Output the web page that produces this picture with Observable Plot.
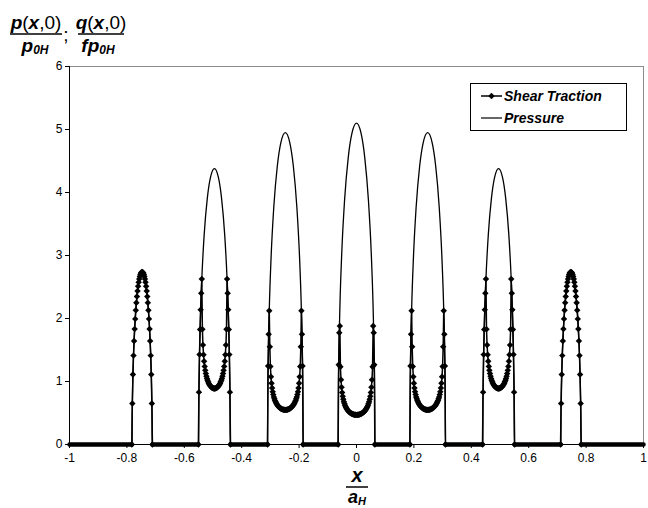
<!DOCTYPE html>
<html>
<head>
<meta charset="utf-8">
<script src="https://cdn.jsdelivr.net/npm/d3@7"></script>
<script src="https://cdn.jsdelivr.net/npm/@observablehq/plot@0.6"></script>
<style>
  html, body { margin: 0; padding: 0; background: #fff; }
  #chart { width: 648px; height: 508px; }
</style>
</head>
<body>
<div id="chart"></div>
<script>
// Axis ticks
const xTicks = [-1, -0.8, -0.6, -0.4, -0.2, 0, 0.2, 0.4, 0.6, 0.8, 1];
const xTickLabels = ["-1", "-0.8", "-0.6", "-0.4", "-0.2", "0", "0.2", "0.4", "0.6", "0.8", "1"];
const yTicks = [0, 1, 2, 3, 4, 5, 6];

// Pressure p(x,0)/p0H along the contact, seven Hertz-like patches
const pressureX = [
  -1,
  -0.782, -0.7817, -0.7806, -0.7785, -0.775, -0.7698, -0.7628, -0.7558, -0.747, -0.7382, -0.7312, -0.7242, -0.719, -0.7155, -0.7134, -0.7123, -0.712,
  -0.55, -0.5495, -0.5478, -0.5445, -0.539, -0.5308, -0.5198, -0.5088, -0.495, -0.4812, -0.4702, -0.4592, -0.451, -0.4455, -0.4422, -0.4405, -0.44,
  -0.31, -0.3094, -0.3075, -0.3038, -0.2976, -0.2883, -0.2759, -0.2635, -0.248, -0.2325, -0.2201, -0.2077, -0.1984, -0.1922, -0.1885, -0.1866, -0.186,
  -0.064, -0.0634, -0.0614, -0.0576, -0.0512, -0.0416, -0.0288, -0.016, 0, 0.016, 0.0288, 0.0416, 0.0512, 0.0576, 0.0614, 0.0634, 0.064,
  0.186, 0.1866, 0.1885, 0.1922, 0.1984, 0.2077, 0.2201, 0.2325, 0.248, 0.2635, 0.2759, 0.2883, 0.2976, 0.3038, 0.3075, 0.3094, 0.31,
  0.44, 0.4405, 0.4422, 0.4455, 0.451, 0.4592, 0.4702, 0.4812, 0.495, 0.5088, 0.5198, 0.5308, 0.539, 0.5445, 0.5478, 0.5495, 0.55,
  0.712, 0.7123, 0.7134, 0.7155, 0.719, 0.7242, 0.7312, 0.7382, 0.747, 0.7558, 0.7628, 0.7698, 0.775, 0.7785, 0.7806, 0.7817, 0.782,
  1
];
const pressureP = [
  0,
  0, 0.387, 0.767, 1.194, 1.644, 2.082, 2.447, 2.653, 2.74, 2.653, 2.447, 2.082, 1.644, 1.194, 0.767, 0.387, 0,
  0, 0.618, 1.226, 1.909, 2.628, 3.328, 3.911, 4.241, 4.38, 4.241, 3.911, 3.328, 2.628, 1.909, 1.226, 0.618, 0,
  0, 0.698, 1.386, 2.158, 2.970, 3.762, 4.420, 4.793, 4.95, 4.793, 4.420, 3.762, 2.970, 2.158, 1.386, 0.698, 0,
  0, 0.720, 1.428, 2.223, 3.060, 3.875, 4.554, 4.938, 5.10, 4.938, 4.554, 3.875, 3.060, 2.223, 1.428, 0.720, 0,
  0, 0.698, 1.386, 2.158, 2.970, 3.762, 4.420, 4.793, 4.95, 4.793, 4.420, 3.762, 2.970, 2.158, 1.386, 0.698, 0,
  0, 0.618, 1.226, 1.909, 2.628, 3.328, 3.911, 4.241, 4.38, 4.241, 3.911, 3.328, 2.628, 1.909, 1.226, 0.618, 0,
  0, 0.387, 0.767, 1.194, 1.644, 2.082, 2.447, 2.653, 2.74, 2.653, 2.447, 2.082, 1.644, 1.194, 0.767, 0.387, 0,
  0
];

// Shear traction q(x,0)/(f p0H): tabulated on a uniform grid inside each patch
const shearStep = 0.002;
const shearStart = [-0.783, -0.551, -0.310, -0.064, 0.186, 0.439, 0.711];
const shear1 = [0, 0.650, 1.110, 1.411, 1.644, 1.834, 1.994, 2.131, 2.249, 2.350, 2.437, 2.511, 2.574, 2.626, 2.667, 2.699, 2.722, 2.736, 2.74, 2.736, 2.722, 2.699, 2.667, 2.626, 2.574, 2.511, 2.437, 2.350, 2.249, 2.131, 1.994, 1.834, 1.644, 1.411, 1.110, 0.650, 0];
const shear2 = [0, 0.831, 1.427, 1.825, 2.138, 2.401, 2.628, 1.828, 1.578, 1.426, 1.320, 1.240, 1.177, 1.126, 1.084, 1.049, 1.020, 0.995, 0.974, 0.956, 0.941, 0.928, 0.917, 0.908, 0.901, 0.896, 0.892, 0.890, 0.889, 0.890, 0.892, 0.896, 0.901, 0.908, 0.917, 0.928, 0.941, 0.956, 0.974, 0.995, 1.020, 1.049, 1.084, 1.126, 1.177, 1.240, 1.320, 1.426, 1.578, 1.828, 2.628, 2.401, 2.138, 1.825, 1.427, 0.831, 0];
const shear3 = [0, 1.247, 1.749, 2.124, 1.553, 1.238, 1.076, 0.971, 0.896, 0.838, 0.792, 0.755, 0.725, 0.699, 0.677, 0.657, 0.641, 0.627, 0.614, 0.603, 0.594, 0.585, 0.578, 0.572, 0.566, 0.562, 0.558, 0.555, 0.553, 0.551, 0.550, 0.550, 0.550, 0.551, 0.553, 0.555, 0.558, 0.562, 0.566, 0.572, 0.578, 0.585, 0.594, 0.603, 0.614, 0.627, 0.641, 0.657, 0.677, 0.699, 0.725, 0.755, 0.792, 0.838, 0.896, 0.971, 1.076, 1.238, 1.553, 2.124, 1.749, 1.247, 0];
const shear4 = [0, 1.265, 1.775, 1.882, 1.235, 1.029, 0.908, 0.825, 0.764, 0.717, 0.680, 0.649, 0.623, 0.601, 0.583, 0.566, 0.552, 0.540, 0.529, 0.520, 0.511, 0.504, 0.498, 0.492, 0.487, 0.483, 0.479, 0.476, 0.474, 0.472, 0.471, 0.470, 0.470, 0.470, 0.471, 0.472, 0.474, 0.476, 0.479, 0.483, 0.487, 0.492, 0.498, 0.504, 0.511, 0.520, 0.529, 0.540, 0.552, 0.566, 0.583, 0.601, 0.623, 0.649, 0.680, 0.717, 0.764, 0.825, 0.908, 1.029, 1.235, 1.882, 1.775, 1.265, 0];
const shear5 = [0, 1.247, 1.749, 2.124, 1.553, 1.238, 1.076, 0.971, 0.896, 0.838, 0.792, 0.755, 0.725, 0.699, 0.677, 0.657, 0.641, 0.627, 0.614, 0.603, 0.594, 0.585, 0.578, 0.572, 0.566, 0.562, 0.558, 0.555, 0.553, 0.551, 0.550, 0.550, 0.550, 0.551, 0.553, 0.555, 0.558, 0.562, 0.566, 0.572, 0.578, 0.585, 0.594, 0.603, 0.614, 0.627, 0.641, 0.657, 0.677, 0.699, 0.725, 0.755, 0.792, 0.838, 0.896, 0.971, 1.076, 1.238, 1.553, 2.124, 1.749, 1.247, 0];
const shear6 = [0, 0.831, 1.427, 1.825, 2.138, 2.401, 2.628, 1.828, 1.578, 1.426, 1.320, 1.240, 1.177, 1.126, 1.084, 1.049, 1.020, 0.995, 0.974, 0.956, 0.941, 0.928, 0.917, 0.908, 0.901, 0.896, 0.892, 0.890, 0.889, 0.890, 0.892, 0.896, 0.901, 0.908, 0.917, 0.928, 0.941, 0.956, 0.974, 0.995, 1.020, 1.049, 1.084, 1.126, 1.177, 1.240, 1.320, 1.426, 1.578, 1.828, 2.628, 2.401, 2.138, 1.825, 1.427, 0.831, 0];
const shear7 = [0, 0.650, 1.110, 1.411, 1.644, 1.834, 1.994, 2.131, 2.249, 2.350, 2.437, 2.511, 2.574, 2.626, 2.667, 2.699, 2.722, 2.736, 2.74, 2.736, 2.722, 2.699, 2.667, 2.626, 2.574, 2.511, 2.437, 2.350, 2.249, 2.131, 1.994, 1.834, 1.644, 1.411, 1.110, 0.650, 0];
// Stretches outside the patches where the shear traction is zero
const zeroRuns = [[-1, -0.783], [-0.711, -0.551], [-0.439, -0.310], [-0.186, -0.064], [0.064, 0.186], [0.310, 0.439], [0.551, 0.711], [0.783, 1]];

// Tidy rows for the marks
const pressureRows = pressureX.map((x, i) => ({x, p: pressureP[i]}));
const shearRows = [shear1, shear2, shear3, shear4, shear5, shear6, shear7]
  .flatMap((vals, h) => vals.map((q, i) => ({x: shearStart[h] + i * shearStep, q, patch: h})));
const zeroRows = zeroRuns.flatMap(([a, b], r) => [{x: a, q: 0, run: r}, {x: b, q: 0, run: r}]);

const FONT = "'Liberation Sans', Arial, sans-serif";
const MARKER_R = 2.9;

const chart = Plot.plot({
  width: 648,
  height: 508,
  marginLeft: 69,
  marginRight: 5,
  marginTop: 66,
  marginBottom: 64,
  style: {fontFamily: FONT, color: "#000", background: "#fff", overflow: "visible"},
  x: {domain: [-1, 1]},
  y: {domain: [0, 6]},
  marks: [
    Plot.frame({stroke: "#8c8c8c", strokeWidth: 1}),
    Plot.line(zeroRows, {x: "x", y: "q", z: "run", stroke: "#000", strokeWidth: 4.5}),
    Plot.line(pressureRows, {x: "x", y: "p", stroke: "#000", strokeWidth: 1.3, curve: "monotone-x"}),
    Plot.line(shearRows, {x: "x", y: "q", z: "patch", stroke: "#000", strokeWidth: 1.5}),
    Plot.dot(shearRows, {x: "x", y: "q", symbol: "diamond2", r: MARKER_R, fill: "#000", stroke: "none"}),
    Plot.ruleY([0], {stroke: "#000", strokeWidth: 1}),
    Plot.ruleX([-1], {stroke: "#000", strokeWidth: 1}),
    Plot.axisX({ticks: xTicks, tickSize: 4, tickPadding: 5, fontSize: 12, label: null,
      tickFormat: d => xTickLabels[xTicks.indexOf(d)]}),
    Plot.axisY({ticks: yTicks, tickSize: 4, tickPadding: 3, fontSize: 12, label: null,
      tickFormat: d => String(d)})
  ]
});

document.getElementById("chart").appendChild(chart);

// Annotations: axis titles and legend
const svg = d3.select(chart);
const g = svg.append("g").attr("font-family", FONT).attr("fill", "#000");

function rich(x, y, parts, anchor = "middle") {
  const t = g.append("text").attr("x", x).attr("y", y).attr("text-anchor", anchor);
  for (const [s, o] of parts) {
    const ts = t.append("tspan").text(s)
      .attr("font-size", o.size)
      .attr("font-weight", o.bold ? "bold" : "normal")
      .attr("font-style", o.italic ? "italic" : "normal");
    if (o.dy) ts.attr("dy", o.dy);
  }
  return t;
}
const B = 19;
const bi = {size: B, bold: true, italic: true};
const rg = {size: B, bold: false};
const sub = {size: 12, bold: true, italic: true, dy: 2};

// y-axis title: p(x,0)/p0H ; q(x,0)/(f p0H)
rich(36, 29, [["p", bi], ["(", rg], ["x", bi], [",0)", rg]]);
g.append("line").attr("x1", 10).attr("x2", 62).attr("y1", 34).attr("y2", 34).attr("stroke", "#000").attr("stroke-width", 1.5);
rich(35, 52, [["p", bi], ["0H", sub]]);
rich(66, 41, [[";", rg]]);
rich(101, 29, [["q", bi], ["(", rg], ["x", bi], [",0)", rg]]);
g.append("line").attr("x1", 78).attr("x2", 124).attr("y1", 34).attr("y2", 34).attr("stroke", "#000").attr("stroke-width", 1.5);
rich(98, 52, [["fp", bi], ["0H", sub]]);

// x-axis title: x/aH
rich(357, 482, [["x", {size: 20, bold: true, italic: true}]]);
g.append("line").attr("x1", 346).attr("x2", 368).attr("y1", 487).attr("y2", 487).attr("stroke", "#000").attr("stroke-width", 1.5);
rich(357, 503, [["a", {size: 18, bold: true, italic: true}], ["H", {size: 11, bold: true, italic: true, dy: 2}]]);

// Legend
const lg = svg.append("g").attr("font-family", FONT).attr("text-anchor", "start");
lg.append("rect").attr("x", 470.5).attr("y", 83.5).attr("width", 156).attr("height", 47)
  .attr("fill", "#fff").attr("stroke", "#000").attr("stroke-width", 1);
lg.append("line").attr("x1", 481).attr("x2", 502).attr("y1", 96).attr("y2", 96).attr("stroke", "#000").attr("stroke-width", 1.5);
lg.append("path").attr("d", d3.symbol(d3.symbolDiamond2, Math.PI * MARKER_R * MARKER_R)()).attr("transform", "translate(491.5,96)").attr("fill", "#000");
lg.append("text").attr("x", 504).attr("y", 101).attr("text-anchor", "start").attr("font-size", 14).attr("font-weight", "bold").attr("font-style", "italic").text("Shear Traction");
lg.append("line").attr("x1", 481).attr("x2", 502).attr("y1", 118).attr("y2", 118).attr("stroke", "#000").attr("stroke-width", 1.2);
lg.append("text").attr("x", 504).attr("y", 123).attr("text-anchor", "start").attr("font-size", 14).attr("font-weight", "bold").attr("font-style", "italic").text("Pressure");
</script>
</body>
</html>
